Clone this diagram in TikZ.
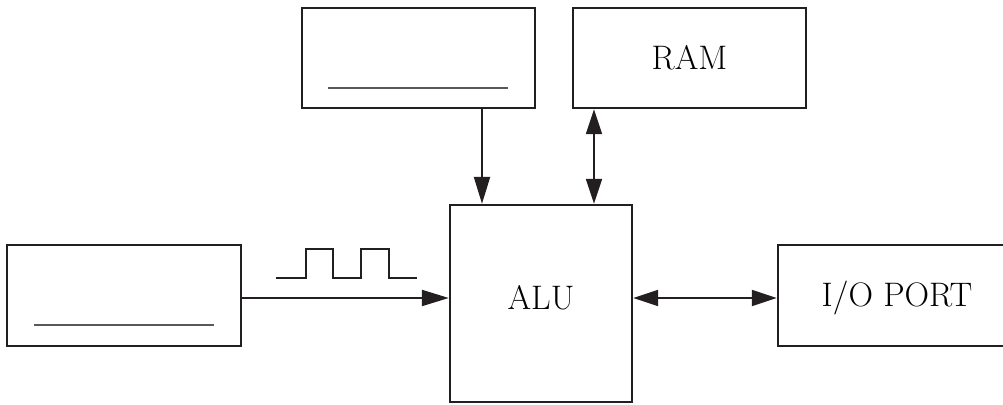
\documentclass[tikz,border=0pt]{standalone}
\usetikzlibrary{arrows.meta}
\definecolor{ink}{RGB}{35,31,32}
\tikzset{
  blk/.style={draw=ink, line width=1.2pt, inner sep=0pt, font=\fontsize{17}{20}\selectfont},
  blank/.style={draw=ink!75, line width=0.6pt},
  arr/.style={draw=ink, line width=1.1pt, -{Triangle[length=13.5pt,width=8pt]}},
  darr/.style={draw=ink, line width=1.1pt, {Triangle[length=12.5pt,width=8pt]}-{Triangle[length=12.5pt,width=8pt]}},
}
\begin{document}
\begin{tikzpicture}[x=0.5pt,y=-0.5pt]
    \useasboundingbox (0,0) rectangle (1003,405);
    \clip (0,0) rectangle (1003,405);
    \node[blk, minimum width=116.5pt, minimum height=50pt] (prog) at (418.5,58) {};
    \node[blk, minimum width=116.5pt, minimum height=50pt] (ram) at (689.5,58) {RAM};
    \node[blk, minimum width=91pt, minimum height=98.5pt, text depth=6.5pt] (alu) at (541,303.5) {ALU};
    \node[blk, minimum width=117pt, minimum height=50.5pt] (clk) at (124,295.5) {};
    \node[blk, minimum width=119pt, minimum height=50.5pt, text height=15pt] (io) at (897,295.5) {I/O PORT};
    \coordinate (c1) at (482,0);
    \coordinate (c2) at (594,0);
    \coordinate (c3) at (0,298);
    \draw[blank] (328,88) -- (508,88);
    \draw[blank] (34,325) -- (214,325);
    \draw[draw=ink, line width=1.1pt] (276,278) -- (306,278) -- (306,249) -- (333,249) -- (333,278) -- (361,278) -- (361,249) -- (389,249) -- (389,278) -- (417,278);
    \draw[arr] (prog.south -| c1) -- (alu.north -| c1);
    \draw[darr] (ram.south -| c2) -- (alu.north -| c2);
    \draw[arr] (clk.east |- c3) -- (alu.west |- c3);
    \draw[darr] (alu.east |- c3) -- (io.west |- c3);
\end{tikzpicture}
\end{document}
